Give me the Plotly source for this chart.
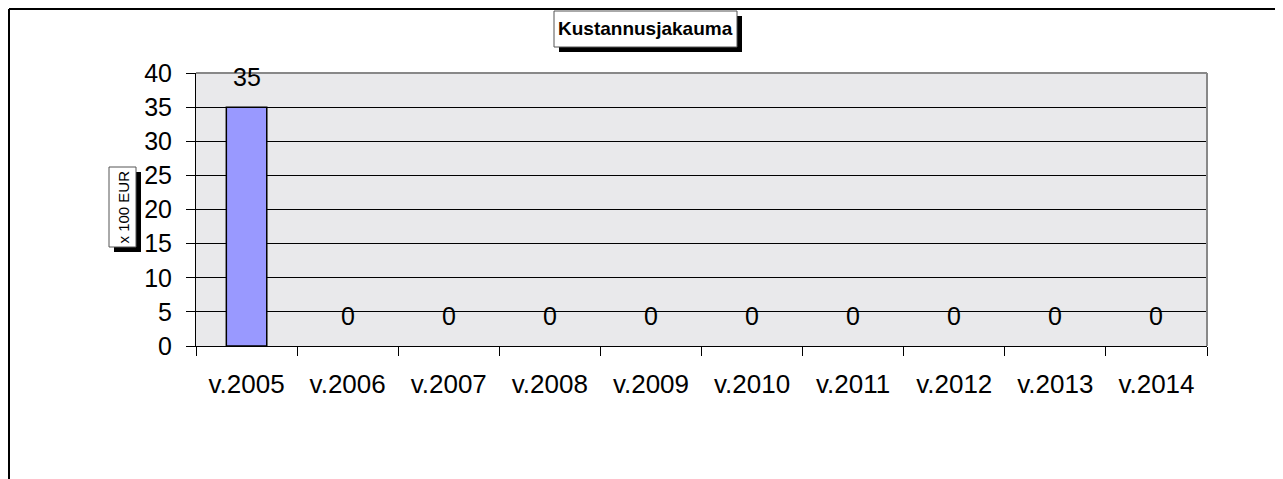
import plotly.graph_objects as go

categories = ["v.2005", "v.2006", "v.2007", "v.2008", "v.2009",
              "v.2010", "v.2011", "v.2012", "v.2013", "v.2014"]
values = [35, 0, 0, 0, 0, 0, 0, 0, 0, 0]
title_text = "Kustannusjakauma"
y_title = "x 100 EUR"

OFF = 8  # page body margin
W, H = 1283 - OFF, 479 - OFF
# plot area in reference page pixels
L, R, T, B = 196, 1207, 73, 346

def px(x):
    return (x - L) / (R - L)

def py(y):
    return (B - y) / (B - T)

FONT = "Liberation Sans, Arial, sans-serif"

fig = go.Figure(go.Bar(
    x=categories, y=values,
    marker=dict(color="#9999FF",
                line=dict(color="black", width=[1.5 if v > 0 else 0 for v in values])),
    width=0.4,
))

shapes = [
    # outer chart border (top and left)
    dict(type="line", xref="paper", yref="paper", x0=px(OFF + 1), x1=px(1290), y0=py(9), y1=py(9),
         line=dict(color="black", width=2)),
    dict(type="line", xref="paper", yref="paper", x0=px(OFF + 1), x1=px(OFF + 1), y0=py(9), y1=py(490),
         line=dict(color="black", width=2)),
    # plot area top/right border
    dict(type="line", xref="paper", yref="paper", x0=0, x1=1, y0=1, y1=1,
         line=dict(color="#888888", width=2), layer="above"),
    dict(type="line", xref="paper", yref="paper", x0=1, x1=1, y0=0, y1=1,
         line=dict(color="#888888", width=2), layer="above"),
    # title box shadow and box
    dict(type="rect", xref="paper", yref="paper", x0=px(559), x1=px(742), y0=py(52), y1=py(16),
         fillcolor="black", line=dict(width=0)),
    dict(type="rect", xref="paper", yref="paper", x0=px(554), x1=px(737), y0=py(47), y1=py(11),
         fillcolor="white", line=dict(color="#555555", width=1)),
    # y title box shadow and box
    dict(type="rect", xref="paper", yref="paper", x0=px(114), x1=px(141), y0=py(252), y1=py(172),
         fillcolor="black", line=dict(width=0)),
    dict(type="rect", xref="paper", yref="paper", x0=px(109), x1=px(136), y0=py(247), y1=py(167),
         fillcolor="white", line=dict(color="#555555", width=1)),
]

annotations = [
    dict(text="<b>" + title_text + "</b>", xref="paper", yref="paper",
         x=px(645.5), y=py(29), showarrow=False, xanchor="center", yanchor="middle",
         font=dict(family=FONT, size=19, color="black")),
    dict(text=y_title, xref="paper", yref="paper", textangle=-90,
         x=px(122.5), y=py(207), showarrow=False, xanchor="center", yanchor="middle",
         font=dict(family=FONT, size=15, color="black")),
]
# data labels
for c, v in zip(categories, values):
    annotations.append(dict(
        text=str(v), x=c, y=v, xref="x", yref="y", showarrow=False,
        xanchor="center", yanchor="bottom", yshift=14,
        font=dict(family=FONT, size=25, color="black"),
    ))

fig.update_layout(
    width=W, height=H,
    margin=dict(l=L - OFF, r=1283 - R, t=T - OFF, b=479 - B, pad=0),
    paper_bgcolor="white",
    plot_bgcolor="#e9e9eb",
    showlegend=False,
    shapes=shapes,
    annotations=annotations,
    bargap=0.6,
)

fig.update_xaxes(
    type="category", tickson="boundaries", ticks="outside", ticklen=9,
    tickcolor="black", tickwidth=1, showline=True, linecolor="black", linewidth=1,
    showgrid=False, tickfont=dict(family=FONT, size=26, color="black"),
    ticklabelstandoff=15,
)
fig.update_yaxes(
    range=[0, 40], dtick=5, ticks="outside", ticklen=9, tickcolor="black",
    showline=True, linecolor="black", linewidth=1,
    showgrid=True, gridcolor="black", gridwidth=1, zeroline=False,
    tickfont=dict(family=FONT, size=25, color="black"),
    ticklabelstandoff=9,
)

fig.write_html("out.html")
